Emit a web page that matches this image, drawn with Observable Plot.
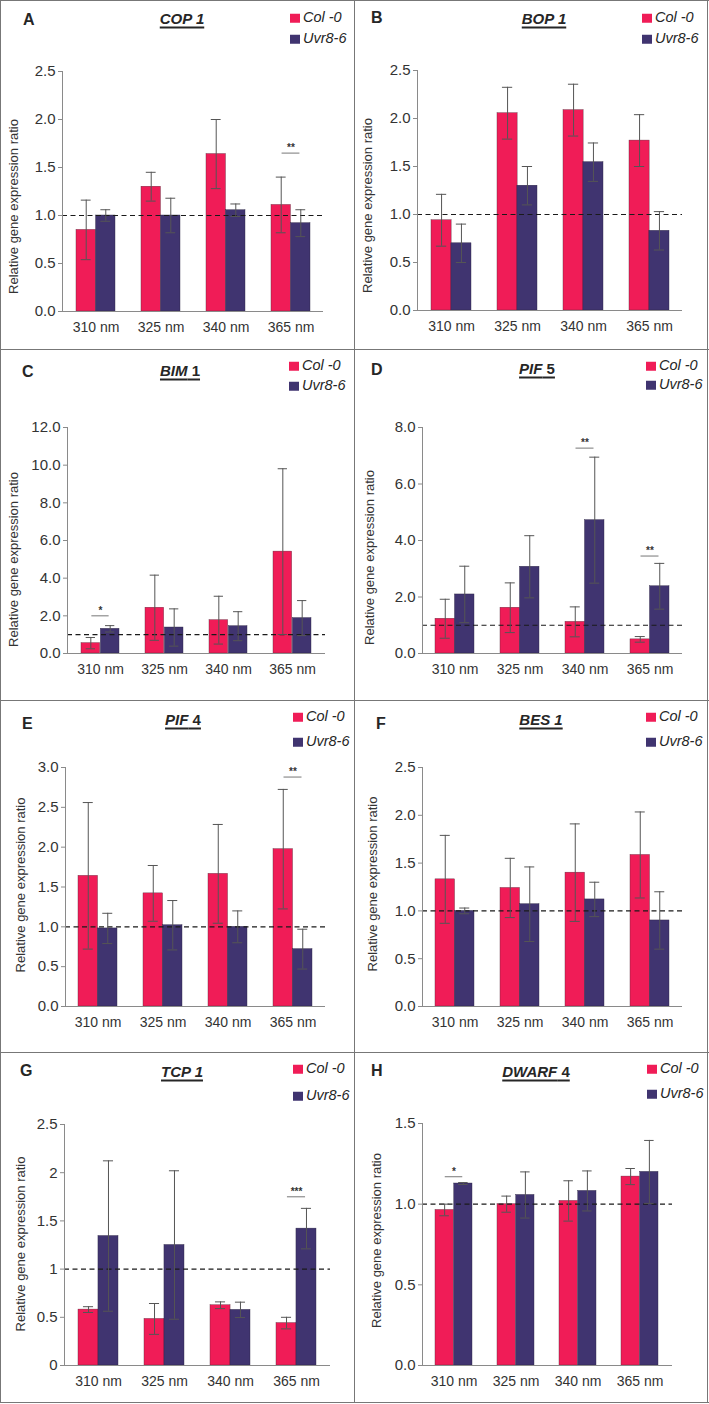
<!DOCTYPE html>
<html>
<head>
<meta charset="utf-8">
<script src="https://cdn.jsdelivr.net/npm/d3@7"></script>
<script src="https://cdn.jsdelivr.net/npm/@observablehq/plot@0.6"></script>
<style>
  html, body { margin: 0; padding: 0; background: #fff; }
  body { font-family: "Liberation Sans", Arial, sans-serif; color: #262626; }
  #fig { position: relative; width: 709px; height: 1404px; background: #fff; }
  .panel { position: absolute; overflow: hidden; }
  .panel svg { display: block; }
  .letter { position: absolute; font-weight: bold; font-size: 16px; line-height: 1; transform: translateY(-50%); }
  .title { position: absolute; font-weight: bold; font-size: 15px; text-decoration: underline; text-decoration-thickness: 1.5px; text-underline-offset: 3px; line-height: 1; transform: translate(-50%, -50%); white-space: nowrap; }
  .leg { position: absolute; font-style: italic; font-size: 14.5px; line-height: 1; white-space: nowrap; transform: translateY(-50%); }
  .sw { display: inline-block; width: 10px; height: 9px; margin-right: 3px; vertical-align: -1px; }
  .hline { position: absolute; height: 1px; background: #777; }
  .vline { position: absolute; width: 1px; background: #777; }
</style>
</head>
<body>
<div id="fig"></div>
<script>
// ---------- data ----------
const wavelengths = ["310 nm", "325 nm", "340 nm", "365 nm"];
const genotypes = ["Col -0", "Uvr8-6"];
const RED = "#F01C57";
const PURPLE = "#403470";

// A  COP 1
const cop1Col = [0.85, 1.30, 1.64, 1.11];
const cop1ColErr = [0.31, 0.15, 0.36, 0.29];
const cop1Uvr = [1.00, 1.00, 1.055, 0.92];
const cop1UvrErr = [0.06, 0.18, 0.065, 0.14];
const cop1Sig = [{w: "365 nm", y: 1.65, s: "**"}];
// B  BOP 1
const bop1Col = [0.94, 2.055, 2.087, 1.77];
const bop1ColErr = [0.27, 0.27, 0.27, 0.27];
const bop1Uvr = [0.70, 1.30, 1.545, 0.83];
const bop1UvrErr = [0.20, 0.20, 0.20, 0.20];
const bop1Sig = [];
// C  BIM 1
const bim1Col = [0.55, 2.43, 1.77, 5.41];
const bim1ColErr = [0.30, 1.73, 1.27, 4.40];
const bim1Uvr = [1.31, 1.38, 1.45, 1.88];
const bim1UvrErr = [0.17, 0.99, 0.77, 0.93];
const bim1Sig = [{w: "310 nm", y: 2.0, s: "*"}];
// D  PIF 5
const pif5Col = [1.23, 1.62, 1.12, 0.50];
const pif5ColErr = [0.69, 0.88, 0.53, 0.10];
const pif5Uvr = [2.09, 3.07, 4.72, 2.38];
const pif5UvrErr = [1.00, 1.10, 2.23, 0.81];
const pif5Sig = [{w: "340 nm", y: 7.27, s: "**"}, {w: "365 nm", y: 3.45, s: "**"}];
// E  PIF 4
const pif4Col = [1.64, 1.42, 1.665, 1.975];
const pif4ColErr = [0.92, 0.35, 0.62, 0.75];
const pif4Uvr = [0.98, 1.02, 1.00, 0.72];
const pif4UvrErr = [0.19, 0.31, 0.20, 0.25];
const pif4Sig = [{w: "365 nm", y: 2.88, s: "**"}];
// F  BES 1
const bes1Col = [1.33, 1.24, 1.40, 1.585];
const bes1ColErr = [0.46, 0.31, 0.51, 0.45];
const bes1Uvr = [1.00, 1.07, 1.12, 0.90];
const bes1UvrErr = [0.03, 0.39, 0.18, 0.30];
const bes1Sig = [];
// G  TCP 1
const tcp1Col = [0.58, 0.483, 0.625, 0.44];
const tcp1ColErr = [0.03, 0.16, 0.035, 0.06];
const tcp1Uvr = [1.343, 1.25, 0.577, 1.42];
const tcp1UvrErr = [0.78, 0.77, 0.08, 0.21];
const tcp1Sig = [{w: "365 nm", y: 1.75, s: "***"}];
// H  DWARF 4
const dwf4Col = [0.964, 1.00, 1.02, 1.171];
const dwf4ColErr = [0.036, 0.05, 0.125, 0.05];
const dwf4Uvr = [1.128, 1.057, 1.082, 1.20];
const dwf4UvrErr = [0.006, 0.143, 0.124, 0.195];
const dwf4Sig = [{w: "310 nm", y: 1.17, s: "*"}];

const yLabel = "Relative gene expression ratio";
const fmt1 = d3.format(".1f");
const fmtG = d => String(d);

// ---------- layout ----------
const rowTop = [0, 350, 701, 1053];
const rowH = [350, 351, 352, 351];
const colLeft = [0, 354];
const colW = [354, 355];

const panels = [
  {letter: "A", title: "<i>COP 1</i>", col: cop1Col, ce: cop1ColErr, uvr: cop1Uvr, ue: cop1UvrErr, sig: cop1Sig,
   max: 2.5, ticks: [0, 0.5, 1, 1.5, 2, 2.5], fmt: fmt1,
   mL: 62, mR: 31, mT: 71, y0: 311, lx: 13, ldy: 15, letX: 23, letY: 20, tX: 182, tY: 18, legX: 290, legY: [17, 38]},
  {letter: "B", title: "<i>BOP 1</i>", col: bop1Col, ce: bop1ColErr, uvr: bop1Uvr, ue: bop1UvrErr, sig: bop1Sig,
   max: 2.5, ticks: [0, 0.5, 1, 1.5, 2, 2.5], fmt: fmt1,
   mL: 63, mR: 27, mT: 70, y0: 310, lx: 13, ldy: 15, letX: 17, letY: 18, tX: 190, tY: 18, legX: 288, legY: [17, 38]},
  {letter: "C", title: "<i>BIM</i> 1", col: bim1Col, ce: bim1ColErr, uvr: bim1Uvr, ue: bim1UvrErr, sig: bim1Sig,
   max: 12, ticks: [0, 2, 4, 6, 8, 10, 12], fmt: fmt1,
   mL: 67, mR: 29, mT: 77, y0: 303, lx: 13, ldy: 19, letX: 22, letY: 22, tX: 180, tY: 20, legX: 289, legY: [15, 35]},
  {letter: "D", title: "<i>PIF</i> 5", col: pif5Col, ce: pif5ColErr, uvr: pif5Uvr, ue: pif5UvrErr, sig: pif5Sig,
   max: 8, ticks: [0, 2, 4, 6, 8], fmt: fmt1,
   mL: 68, mR: 27, mT: 77, y0: 303, lx: 15, ldy: 17, letX: 17, letY: 20, tX: 183, tY: 18, legX: 292, legY: [15, 34]},
  {letter: "E", title: "<i>PIF</i> 4", col: pif4Col, ce: pif4ColErr, uvr: pif4Uvr, ue: pif4UvrErr, sig: pif4Sig,
   max: 3, ticks: [0, 0.5, 1, 1.5, 2, 2.5, 3], fmt: fmt1,
   mL: 65, mR: 29, mT: 66, y0: 305, lx: 20, ldy: -2, letX: 22, letY: 23, tX: 183, tY: 18, legX: 293, legY: [15, 40]},
  {letter: "F", title: "<i>BES 1</i>", col: bes1Col, ce: bes1ColErr, uvr: bes1Uvr, ue: bes1UvrErr, sig: bes1Sig,
   max: 2.5, ticks: [0, 0.5, 1, 1.5, 2, 2.5], fmt: fmt1,
   mL: 68, mR: 27, mT: 66, y0: 305, lx: 18, ldy: -3, letX: 22, letY: 23, tX: 187, tY: 18, legX: 292, legY: [15, 40]},
  {letter: "G", title: "<i>TCP 1</i>", col: tcp1Col, ce: tcp1ColErr, uvr: tcp1Uvr, ue: tcp1UvrErr, sig: tcp1Sig,
   max: 2.5, ticks: [0, 0.5, 1, 1.5, 2, 2.5], fmt: fmtG,
   mL: 64, mR: 24, mT: 71, y0: 312, lx: 20, ldy: -1, letX: 20, letY: 18, tX: 182, tY: 18, legX: 293, legY: [15, 42]},
  {letter: "H", title: "<i>DWARF</i> 4", col: dwf4Col, ce: dwf4ColErr, uvr: dwf4Uvr, ue: dwf4UvrErr, sig: dwf4Sig,
   max: 1.5, ticks: [0, 0.5, 1, 1.5], fmt: fmt1,
   mL: 68, mR: 37, mT: 70, y0: 312, lx: 22, ldy: -4, letX: 17, letY: 18, tX: 182, tY: 18, legX: 293, legY: [15, 40]}
];

const fig = document.getElementById("fig");

function makePanel(p, W, H) {
  const rows = wavelengths.map((w, i) => ({w, col: p.col[i], ce: p.ce[i], uvr: p.uvr[i], ue: p.ue[i]}));
  const mB = H - p.y0;
  const innerW = W - p.mL - p.mR;
  const pi = 0.4, po = 0.2;
  const step = innerW / (wavelengths.length - pi + 2 * po);
  const bw = step * (1 - pi);
  const half = bw / 2;
  const cap = 10;
  const capIn = (half - cap) / 2;
  const sigIn = (bw - 18) / 2;
  const err = "#555";

  const svg = Plot.plot({
    width: W,
    height: H,
    marginLeft: p.mL,
    marginRight: p.mR,
    marginTop: p.mT,
    marginBottom: mB,
    style: {fontFamily: '"Liberation Sans", Arial, sans-serif', color: "#262626", background: "transparent", overflow: "visible"},
    x: {domain: wavelengths, paddingInner: pi, paddingOuter: po},
    y: {domain: [0, p.max]},
    marks: [
      Plot.barY(rows, {x: "w", y: "col", fill: RED, insetRight: half, stroke: "#5a2a3a", strokeWidth: 0.4}),
      Plot.barY(rows, {x: "w", y: "uvr", fill: PURPLE, insetLeft: half, stroke: "#2a2440", strokeWidth: 0.4}),
      Plot.ruleY([1], {stroke: "#1a1a1a", strokeWidth: 1.2, strokeDasharray: "5,3.5"}),
      // error bars Col-0
      Plot.ruleX(rows, {x: "w", y1: d => d.col - d.ce, y2: d => d.col + d.ce, dx: -half / 2, stroke: err, strokeWidth: 1}),
      Plot.tickY(rows, {x: "w", y: d => d.col + d.ce, insetLeft: capIn, insetRight: half + capIn, stroke: err, strokeWidth: 1}),
      Plot.tickY(rows, {x: "w", y: d => d.col - d.ce, insetLeft: capIn, insetRight: half + capIn, stroke: err, strokeWidth: 1}),
      // error bars Uvr8-6
      Plot.ruleX(rows, {x: "w", y1: d => d.uvr - d.ue, y2: d => d.uvr + d.ue, dx: half / 2, stroke: err, strokeWidth: 1}),
      Plot.tickY(rows, {x: "w", y: d => d.uvr + d.ue, insetLeft: half + capIn, insetRight: capIn, stroke: err, strokeWidth: 1}),
      Plot.tickY(rows, {x: "w", y: d => d.uvr - d.ue, insetLeft: half + capIn, insetRight: capIn, stroke: err, strokeWidth: 1}),
      // significance
      Plot.ruleY(p.sig, {x1: "w", x2: "w", y: "y", insetLeft: sigIn, insetRight: sigIn, stroke: "#777", strokeWidth: 1}),
      Plot.text(p.sig, {x: "w", y: "y", text: "s", dy: -5, fontSize: 10, fontWeight: "bold", fill: "#333"}),
      // axes
      Plot.ruleY([0], {stroke: "#8a8a8a", strokeWidth: 1}),
      Plot.frame({anchor: "left", stroke: "#8a8a8a", strokeWidth: 1}),
      Plot.axisY({ticks: p.ticks, tickFormat: p.fmt, tickSize: 4, tickPadding: 3, fontSize: 15, label: null, stroke: "#8a8a8a", fill: "#333"}),
      Plot.axisX({tickSize: 0, tickPadding: 11, fontSize: 14, label: null, fill: "#333"}),
      Plot.text([yLabel], {frameAnchor: "left", textAnchor: "middle", rotate: -90, dx: p.lx - p.mL, dy: p.ldy, fontSize: 13, fill: "#333"})
    ]
  });
  return svg;
}

panels.forEach((p, k) => {
  const r = Math.floor(k / 2), c = k % 2;
  const W = colW[c], H = rowH[r];
  const div = document.createElement("div");
  div.className = "panel";
  div.style.left = colLeft[c] + "px";
  div.style.top = rowTop[r] + "px";
  div.style.width = W + "px";
  div.style.height = H + "px";
  div.appendChild(makePanel(p, W, H));

  const let_ = document.createElement("div");
  let_.className = "letter";
  let_.textContent = p.letter;
  let_.style.left = p.letX + "px";
  let_.style.top = p.letY + "px";
  div.appendChild(let_);

  const t = document.createElement("div");
  t.className = "title";
  t.innerHTML = p.title;
  t.style.left = p.tX + "px";
  t.style.top = p.tY + "px";
  div.appendChild(t);

  genotypes.forEach((g, i) => {
    const l = document.createElement("div");
    l.className = "leg";
    l.style.left = p.legX + "px";
    l.style.top = p.legY[i] + "px";
    l.innerHTML = `<span class="sw" style="background:${i === 0 ? RED : PURPLE}"></span>${g}`;
    div.appendChild(l);
  });
  fig.appendChild(div);
});

// panel borders
function hline(x, y, w) { const d = document.createElement("div"); d.className = "hline"; d.style.left = x + "px"; d.style.top = y + "px"; d.style.width = w + "px"; fig.appendChild(d); }
function vline(x, y, h) { const d = document.createElement("div"); d.className = "vline"; d.style.left = x + "px"; d.style.top = y + "px"; d.style.height = h + "px"; fig.appendChild(d); }
hline(0, 0, 709); hline(0, 349, 709); hline(0, 700, 709); hline(0, 1052, 709); hline(0, 1402, 709);
vline(0, 0, 1403); vline(354, 0, 1403); vline(707, 0, 1403);
</script>
</body>
</html>
